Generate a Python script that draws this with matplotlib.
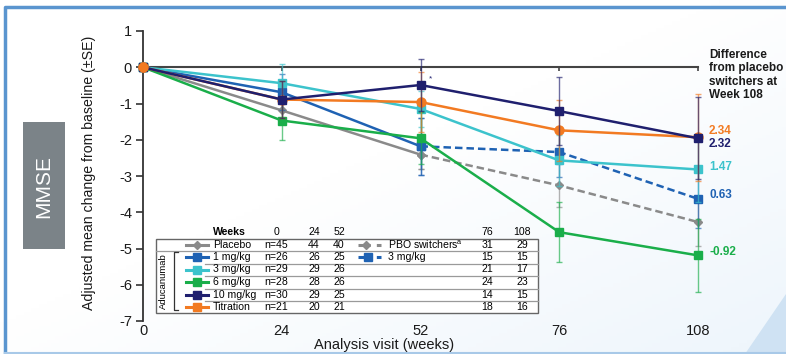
import matplotlib
matplotlib.use("Agg")
import matplotlib.pyplot as plt
import numpy as np
from matplotlib.patches import Rectangle, Polygon

plt.rcParams['font.family'] = ['Liberation Sans', 'DejaVu Sans']

# ---------------- data ----------------
weeks = ['0', '24', '52', '76', '108']
pos = [0, 1, 2, 3, 4]

placebo = [0, -1.19, -2.41]            # weeks 0-52
placebo_se = [0, 0.35, 0.40]
pbo_switch = [-2.41, -3.26, -4.27]     # weeks 52-108
pbo_switch_se = [0.40, 0.60, 0.65]

one_mg = [0, -0.69, -2.18]             # weeks 0-52
one_mg_se = [0, 0.50, 0.78]
one_to_three = [-2.18, -2.34, -3.63]   # weeks 52-108
one_to_three_se = [0.78, 0.70, 0.80]

three_mg = [0, -0.44, -1.15, -2.57, -2.82]
three_mg_se = [0, 0.53, 0.50, 0.70, 0.90]
six_mg = [0, -1.47, -1.96, -4.55, -5.19]
six_mg_se = [0, 0.53, 0.72, 0.83, 1.00]
ten_mg = [0, -0.89, -0.49, -1.21, -1.96]
ten_mg_se = [0, 0.50, 0.72, 0.93, 1.13]
titration = [0, -0.89, -0.96, -1.74, -1.93]
titration_se = [0, 0.50, 0.82, 0.85, 1.20]

diff_labels = ['2.34', '2.32', '1.47', '0.63', '-0.92']

table_rows = ['Placebo', '1 mg/kg', '3 mg/kg', '6 mg/kg', '10 mg/kg', 'Titration']
n_w0 = ['n=45', 'n=26', 'n=29', 'n=28', 'n=30', 'n=21']
n_w24 = ['44', '26', '29', '28', '29', '20']
n_w52 = ['40', '25', '26', '26', '25', '21']
n_w76 = ['31', '15', '21', '24', '14', '18']
n_w108 = ['29', '15', '17', '23', '15', '16']

# ---------------- colours ----------------
c_gray = '#8a8a8a'
c_blue = '#1f62b3'
c_cyan = '#3cc3cc'
c_green = '#1aae4a'
c_navy = '#1f1f6e'
c_orange = '#f27a22'

W, H = 786, 354
fig = plt.figure(figsize=(W / 100, H / 100), dpi=100)
fig.patch.set_facecolor('white')

# background gradient
bg = fig.add_axes([0, 0, 1, 1], zorder=-10)
gx, gy = np.meshgrid(np.linspace(0, 1, 200), np.linspace(0, 1, 100))
g = np.clip((gx * 0.6 + gy * 0.6) - 0.55, 0, 1) * 1.3
g = np.clip(g, 0, 1)
white = np.array([1, 1, 1])
blue = np.array([0.92, 0.955, 0.985])
img = white[None, None, :] * (1 - g[..., None]) + blue[None, None, :] * g[..., None]
bg.imshow(img, extent=[0, 1, 0, 1], aspect='auto', origin='upper')
bg.add_patch(Polygon([[745 / W, 0], [1, 60 / H], [1, 0]], closed=True,
                     facecolor='#cfe2f3', edgecolor='none'))
bg.set_xlim(0, 1)
bg.set_ylim(0, 1)
bg.axis('off')

# ---------------- main axes ----------------
ax = fig.add_axes([143 / W, 1 - 321 / H, (698 - 143) / W, (321 - 31) / H])
ax.set_facecolor('none')
ax.set_xlim(0, 4)
ax.set_ylim(-7, 1)


def series(x, y, se, color, marker, ms, ls='-', z=3):
    ax.errorbar(x, y, yerr=se, fmt='none', ecolor=color, elinewidth=1,
                capsize=2.5, capthick=1, alpha=0.65, zorder=z - 1, clip_on=False)
    ax.plot(x, y, color=color, lw=1.8, ls=ls, marker=marker, ms=ms,
            mfc=color, mec=color, zorder=z, clip_on=False,
            dashes=(3, 1.6) if ls == '--' else (None, None))


series(pos[2:], pbo_switch, pbo_switch_se, c_gray, 'D', 4.5, '--', 3)
series(pos[:3], placebo, placebo_se, c_gray, 'D', 4.5, '-', 3)
series(pos[2:], one_to_three, one_to_three_se, c_blue, 's', 6, '--', 4)
series(pos[:3], one_mg, one_mg_se, c_blue, 's', 6, '-', 4)
series(pos, three_mg, three_mg_se, c_cyan, 's', 6, '-', 5)
series(pos, six_mg, six_mg_se, c_green, 's', 6, '-', 6)
series(pos, titration, titration_se, c_orange, 'o', 6.5, '-', 7)
series(pos, ten_mg, ten_mg_se, c_navy, 's', 6, '-', 8)
ax.plot([0], [0], marker='o', ms=6.5, color=c_orange, zorder=10, clip_on=False)

ax.text(2.06, -0.33, '*', color=c_navy, fontsize=6, ha='left', va='center')

# spines
for s in ['top', 'right']:
    ax.spines[s].set_visible(False)
ax.spines['left'].set_color('#333333')
ax.spines['left'].set_linewidth(1.3)
ax.spines['bottom'].set_position(('data', 0))
ax.spines['bottom'].set_color('#444444')
ax.spines['bottom'].set_linewidth(1.5)
ax.spines['bottom'].set_zorder(1)

ax.set_yticks(range(-7, 2))
ax.set_yticklabels([str(v) for v in range(-7, 2)])
ax.tick_params(axis='y', direction='out', length=5, width=1.2, colors='#333333',
               labelsize=10.5, labelcolor='#1a1a1a', pad=3)
ax.set_xticks(pos)
ax.tick_params(axis='x', direction='out', length=3, width=1.2, colors='#444444',
               labelbottom=False)

sec = ax.secondary_xaxis('bottom')
sec.set_xticks(pos)
sec.set_xticklabels(weeks)
sec.tick_params(length=0, labelsize=10.5, labelcolor='#1a1a1a', pad=2)
sec.spines['bottom'].set_visible(False)

# ---------------- overlay (pixel coordinates) ----------------
ov = fig.add_axes([0, 0, 1, 1], zorder=20)
ov.set_xlim(0, W)
ov.set_ylim(H, 0)
ov.axis('off')
ov.set_facecolor('none')

# frame
ov.plot([5, 5, W + 5], [H, 7, 7], color='#5a95cf', lw=2.5, solid_capstyle='butt')
ov.plot([5, W], [352.5, 352.5], color='#a8c9e8', lw=1.5)

# MMSE box
ov.add_patch(Rectangle((23, 122), 42, 127, facecolor='#7b8388', edgecolor='none'))
ov.text(44, 186, 'MMSE', rotation=90, color='white', fontsize=15,
        ha='center', va='center')

# y label and x label
ov.text(89, 173, 'Adjusted mean change from baseline (±SE)', rotation=90,
        fontsize=10.2, ha='center', va='center', color='#1a1a1a')
ov.text(384, 345, 'Analysis visit (weeks)', fontsize=10.5, ha='center',
        va='center', color='#1a1a1a')

# right annotation
ov.text(709, 75, 'Difference\nfrom placebo\nswitchers at\nWeek 108', fontsize=8.5,
        fontweight='bold', ha='left', va='center', color='#1a1a1a',
        linespacing=1.15)
diff_colors = [c_orange, c_navy, c_cyan, c_blue, c_green]
diff_y = [131.5, 144, 166.5, 195.5, 252]
for lab, col, yy in zip(diff_labels, diff_colors, diff_y):
    ov.text(709, yy, lab, fontsize=8.5, fontweight='bold', color=col,
            ha='left', va='center')

# ---------------- table ----------------
tl, tr, tt, tb = 156, 538, 239, 313
ov.add_patch(Rectangle((tl, tt), tr - tl, tb - tt, facecolor='white',
                       edgecolor='#666666', lw=1.0, zorder=1))
row_y = [244.5, 257, 269.5, 282, 294.5, 307]
sep_y = [251, 263.5, 276, 288.5, 301]
for i, yy in enumerate(sep_y):
    x0 = tl if i == 0 else 205
    ov.plot([x0, tr], [yy, yy], color='#9a9a9a', lw=0.9, zorder=2)

tfs = 7.6
hdr_y = 232
ov.text(213, hdr_y, 'Weeks', fontsize=tfs, fontweight='bold', ha='left', va='center')
col_x = [276, 314, 339, 487, 522]
for cx, wk in zip(col_x, weeks):
    ov.text(cx, hdr_y, wk, fontsize=tfs, ha='center', va='center')

row_colors = [c_gray, c_blue, c_cyan, c_green, c_navy, c_orange]
row_markers = ['D', 's', 's', 's', 's', 's']
for i in range(6):
    yy = row_y[i]
    col = row_colors[i]
    ov.plot([186, 208], [yy, yy], color=col, lw=2.2, zorder=3)
    ov.plot([197], [yy], marker=row_markers[i], ms=4.5 if i == 0 else 5.5,
            color=col, zorder=4)
    ov.text(213, yy, table_rows[i], fontsize=tfs, ha='left', va='center', zorder=4)
    ov.text(col_x[0], yy, n_w0[i], fontsize=tfs, ha='center', va='center', zorder=4)
    ov.text(col_x[1], yy, n_w24[i], fontsize=tfs, ha='center', va='center', zorder=4)
    ov.text(col_x[2], yy, n_w52[i], fontsize=tfs, ha='center', va='center', zorder=4)
    ov.text(col_x[3], yy, n_w76[i], fontsize=tfs, ha='center', va='center', zorder=4)
    ov.text(col_x[4], yy, n_w108[i], fontsize=tfs, ha='center', va='center', zorder=4)

# switcher legend entries
ov.plot([358, 381], [row_y[0], row_y[0]], color=c_gray, lw=2.2, ls=(0, (4, 2)), zorder=3)
ov.plot([366], [row_y[0]], marker='D', ms=4.5, color=c_gray, zorder=4)
ov.text(388, row_y[0], 'PBO switchers$^{\\mathregular{a}}$', fontsize=tfs, ha='left',
        va='center', zorder=4)
ov.plot([358, 381], [row_y[1], row_y[1]], color=c_blue, lw=2.2, ls=(0, (4, 2)), zorder=3)
ov.plot([368], [row_y[1]], marker='s', ms=5.5, color=c_blue, zorder=4)
ov.text(388, row_y[1], '3 mg/kg', fontsize=tfs, ha='left', va='center', zorder=4)

# Aducanumab bracket
ov.text(163, 281, 'Aducanumab', rotation=90, fontsize=6.8, ha='center',
        va='center', zorder=4)
ov.plot([178, 173.5, 173.5, 178], [252, 252, 310, 310], color='#333333', lw=0.9, zorder=4)

fig.savefig('out.png', dpi=100)
